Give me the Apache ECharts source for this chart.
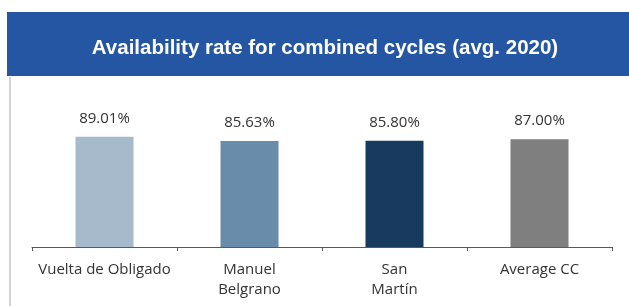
<!DOCTYPE html>
<html>
<head>
<meta charset="utf-8">
<script src="https://cdn.jsdelivr.net/npm/echarts@6/dist/echarts.min.js"></script>
<style>
  html, body { margin: 0; padding: 0; background: #fff; }
  #chart { width: 629px; height: 306px; }
</style>
</head>
<body>
<div id="chart"></div>
<script>
// plants and their average availability (%)
var categories = ['Vuelta de Obligado', 'Manuel\nBelgrano', 'San\nMartín', 'Average CC']
var availability = [89.01, 85.63, 85.80, 87.00]
// light blue, steel blue, navy, grey
var barColors = ['#A7BACB', '#6A8CAB', '#173A5E', '#7F7F7F']

var chart = echarts.init(document.getElementById('chart'))
var option = {
  animation: false,
  graphic: [
    {
      type: 'rect',
      shape: { x: 7, y: 12, width: 622, height: 64 },
      style: { fill: '#2456A4' }
    },
    {
      type: 'line',
      shape: { x1: 10, y1: 77, x2: 10, y2: 306 },
      style: { stroke: '#A6A6A6', lineWidth: 1 }
    }
  ],
  title: {
    text: 'Availability rate for combined cycles (avg. 2020)',
    left: 320,
    top: 33,
    textAlign: 'center',
    textStyle: {
      color: '#fff',
      fontFamily: 'Liberation Sans',
      fontWeight: 'bold',
      fontSize: 20.5
    }
  },
  grid: { left: 32, right: 17, top: 117, bottom: 59 },
  xAxis: {
    type: 'category',
    data: categories,
    axisLine: { lineStyle: { color: '#595959' } },
    axisTick: { show: true, length: 4, lineStyle: { color: '#595959' } },
    axisLabel: {
      color: '#333',
      fontFamily: 'Open Sans',
      fontSize: 15,
      lineHeight: 20,
      margin: 13,
      interval: 0
    }
  },
  yAxis: {
    type: 'value',
    min: 0,
    max: 105,
    show: false,
    splitLine: { show: false }
  },
  series: [
    {
      type: 'bar',
      barWidth: 58,
      data: availability.map(function (v, i) {
        return { value: v, itemStyle: { color: barColors[i] } }
      }),
      label: {
        show: true,
        position: 'top',
        distance: 11,
        color: '#333',
        fontFamily: 'Open Sans',
        fontSize: 15,
        formatter: function (p) { return p.value.toFixed(2) + '%' }
      }
    }
  ]
}
chart.setOption(option)
</script>
</body>
</html>
